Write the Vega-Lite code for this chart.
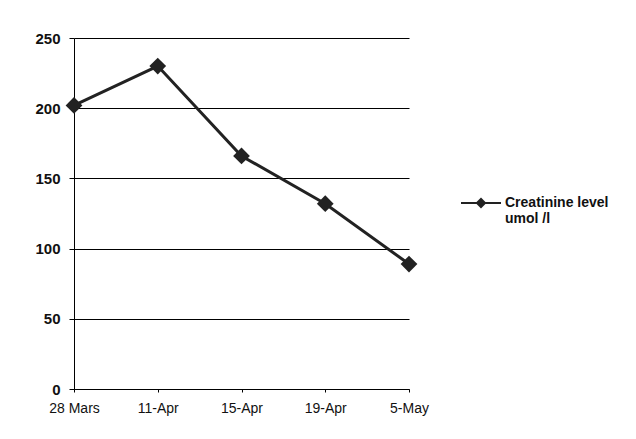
{
  "$schema": "https://vega.github.io/schema/vega-lite/v6.json",
  "autosize": "none",
  "width": 335,
  "height": 351,
  "padding": {"left": 74, "top": 38, "right": 227, "bottom": 50},
  "background": "white",
  "config": {
    "view": {"stroke": null},
    "font": "Liberation Sans"
  },
  "data": {
    "values": [
      {"date": "28 Mars", "value": 202, "series": "Creatinine level umol /l"},
      {"date": "11-Apr", "value": 230, "series": "Creatinine level umol /l"},
      {"date": "15-Apr", "value": 166, "series": "Creatinine level umol /l"},
      {"date": "19-Apr", "value": 132, "series": "Creatinine level umol /l"},
      {"date": "5-May", "value": 89, "series": "Creatinine level umol /l"}
    ]
  },
  "layer": [
    {
      "mark": {"type": "line", "strokeWidth": 3},
      "encoding": {
        "x": {
          "field": "date", "type": "ordinal", "sort": null,
          "scale": {"type": "point", "padding": 0},
          "axis": {
            "title": null, "labelAngle": 0, "labelFont": "Liberation Sans", "labelFontSize": 14,
            "labelColor": "#111", "domainColor": "#000", "domainWidth": 1,
            "tickColor": "#000", "tickSize": 3, "labelPadding": 9, "grid": false
          }
        },
        "y": {
          "field": "value", "type": "quantitative",
          "scale": {"domain": [0, 250], "nice": false},
          "axis": {
            "title": null, "values": [0, 50, 100, 150, 200, 250],
            "labelFont": "Liberation Sans", "labelFontSize": 15, "labelFontWeight": "bold",
            "labelColor": "#111", "domainColor": "#000", "tickColor": "#000", "tickSize": 5,
            "labelPadding": 9, "gridColor": "#000", "gridOpacity": 1, "gridWidth": 1
          }
        },
        "color": {
          "field": "series", "type": "nominal",
          "scale": {"range": ["#222222"]},
          "legend": {
            "title": null, "orient": "none", "legendX": 386, "legendY": 144,
            "symbolType": "M-1,0L1,0M-0.2,0L0,-0.2L0.2,0L0,0.2Z",
            "symbolSize": 1600, "symbolStrokeWidth": 2, "symbolFillColor": "#222222",
            "symbolStrokeColor": "#222222",
            "labelExpr": "['Creatinine level', 'umol /l']",
            "labelFont": "Liberation Sans", "labelFontSize": 14, "labelFontWeight": "bold",
            "labelColor": "#111", "labelOffset": 3, "labelLimit": 200
          }
        }
      }
    },
    {
      "mark": {"type": "point", "shape": "diamond", "size": 280, "filled": true, "opacity": 1},
      "encoding": {
        "x": {"field": "date", "type": "ordinal", "sort": null},
        "y": {"field": "value", "type": "quantitative"},
        "color": {"field": "series", "type": "nominal"}
      }
    }
  ]
}
